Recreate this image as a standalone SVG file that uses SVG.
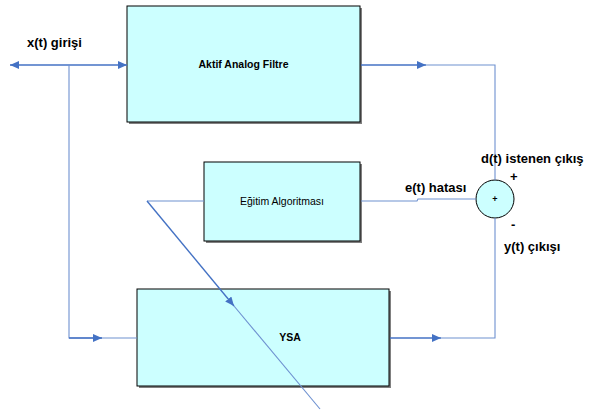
<svg xmlns="http://www.w3.org/2000/svg" width="597" height="414" viewBox="0 0 597 414">
<defs>
<marker id="arr" markerUnits="userSpaceOnUse" markerWidth="10" markerHeight="8" refX="9" refY="4" orient="auto">
<path d="M0,0 L9,4 L0,8 z" fill="#4472C4"/>
</marker>
<style>
.box{fill:#CCFFFF;stroke:#000;stroke-width:1}
.shadow{fill:#808080}
.ln{fill:none;stroke:#4472C4;stroke-width:1.4}
.lt{fill:none;stroke:#6E91D0;stroke-width:1.1}
.lb{font-family:"Liberation Sans",Arial,sans-serif;font-weight:bold;font-size:13px;fill:#000}
.bt{font-family:"Liberation Sans",Arial,sans-serif;font-size:10.5px;fill:#000;text-anchor:middle}
</style>
</defs>
<rect width="597" height="414" fill="#fff"/>

<g id="filter">
<rect class="shadow" x="129" y="8" width="233" height="116"/>
<rect class="box" x="127" y="6" width="233" height="116"/>
<text class="bt" x="243.5" y="68" font-weight="bold">Aktif Analog Filtre</text>
</g>

<g id="training">
<rect class="shadow" x="206" y="164" width="156" height="79"/>
<rect class="box" x="204" y="162" width="156" height="79"/>
<text class="bt" x="282" y="205">Eğitim Algoritması</text>
</g>

<g id="ysa">
<rect class="shadow" x="139" y="291" width="252" height="97"/>
<rect class="box" x="137" y="289" width="252" height="97"/>
<text class="bt" x="290" y="341" font-weight="bold" font-size="11.5">YSA</text>
</g>

<g id="sum">
<circle cx="495" cy="199" r="19" fill="#CCFFFF" stroke="#000" stroke-width="1"/>
<text x="495" y="202" font-family="Liberation Sans, Arial, sans-serif" font-weight="bold" font-size="9" text-anchor="middle">+</text>
</g>

<g id="connectors">
<line class="ln" x1="69" y1="65" x2="10" y2="65" marker-end="url(#arr)"/>
<line class="ln" x1="69" y1="65" x2="127" y2="65" marker-end="url(#arr)"/>
<polyline class="lt" points="69,65 69,338 102,338"/>
<line class="ln" x1="69" y1="338" x2="102" y2="338" marker-end="url(#arr)"/>
<line class="lt" x1="102" y1="338" x2="137" y2="338"/>
<line class="ln" x1="361" y1="65" x2="426" y2="65" marker-end="url(#arr)"/>
<polyline class="lt" points="426,65 495,65 495,180"/>
<line class="ln" x1="390" y1="338" x2="441" y2="338" marker-end="url(#arr)"/>
<polyline class="lt" points="441,338 495,338 495,218"/>
<polyline class="lt" points="361,201 417,201 418,199 476,199"/>
<polyline class="lt" points="204,201 147,201"/>
<line class="ln" x1="147" y1="201" x2="234" y2="306" marker-end="url(#arr)"/>
<line class="lt" x1="234" y1="306" x2="320" y2="409"/>
</g>

<g id="labels">
<text class="lb" x="27" y="47">x(t) girişi</text>
<text class="lb" x="481" y="163">d(t) istenen çıkış</text>
<text class="lb" x="510" y="181">+</text>
<text class="lb" x="511" y="229">-</text>
<text class="lb" x="405" y="192">e(t) hatası</text>
<text class="lb" x="504" y="251">y(t) çıkışı</text>
</g>
</svg>
